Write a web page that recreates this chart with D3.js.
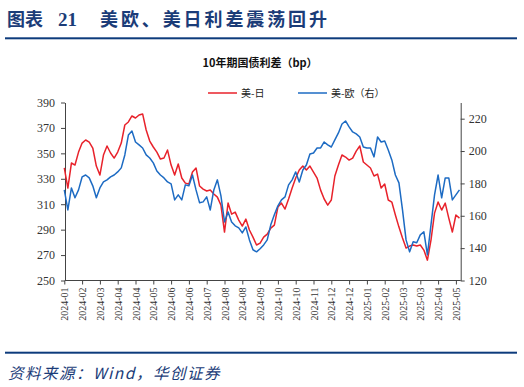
<!DOCTYPE html>
<html>
<head>
<meta charset="utf-8">
<script src="https://cdn.jsdelivr.net/npm/d3@7"></script>
<style>
  body { margin: 0; background: #fff; }
  svg { display: block; }
</style>
</head>
<body>
<svg id="chart" width="524" height="387"></svg>
<script>
// x tick labels, one every 5 samples
const xLabels = ['2024-01', '2024-02', '2024-03', '2024-04', '2024-04', '2024-05', '2024-06', '2024-06',
  '2024-07', '2024-08', '2024-08', '2024-09', '2024-10', '2024-10', '2024-11', '2024-12', '2024-12',
  '2025-01', '2025-02', '2025-03', '2025-03', '2025-04', '2025-05'];

// 美-日 (left axis, bp)
const usJp = [338.5, 322.7, 342.4, 340.8, 351.0, 358.1, 360.5, 358.9, 354.2, 340.0,
  332.9, 348.7, 355.8, 350.3, 346.3, 351.0, 358.1, 372.3, 374.7, 379.4,
  377.8, 380.2, 381.0, 368.4, 359.7, 355.0, 351.0, 345.5, 346.3, 352.6,
  340.8, 332.9, 341.6, 330.6, 326.6, 325.9, 335.3, 338.5, 324.3, 321.9,
  320.4, 321.1, 318.0, 315.6, 309.3, 288.1, 310.9, 302.2, 303.8, 297.5,
  292.8, 298.3, 289.7, 284.1, 277.9, 279.4, 284.1, 286.5, 291.2, 293.6,
  307.8, 310.9, 306.2, 314.1, 322.7, 330.6, 336.9, 340.0, 336.9, 340.0,
  335.3, 330.6, 321.1, 314.1, 309.3, 313.3, 332.2, 340.8, 348.7, 347.1,
  344.7, 346.3, 351.8, 355.8, 343.2, 340.8, 338.5, 332.2, 333.7, 322.7,
  325.9, 313.3, 311.7, 301.5, 292.0, 283.4, 275.5, 277.1, 277.9, 277.1,
  277.9, 273.9, 266.0, 281.8, 303.0, 311.7, 305.4, 310.9, 299.1, 288.1,
  301.5, 299.1];

// 美-欧 (right axis, bp)
const usEu = [176.0, 163.6, 177.2, 171.1, 176.0, 184.0, 185.2, 183.4, 178.5, 171.1,
  177.2, 180.9, 182.2, 184.0, 185.2, 187.1, 189.6, 197.6, 209.9, 212.4,
  205.6, 203.8, 201.9, 197.6, 195.7, 192.7, 187.7, 185.2, 183.4, 180.9,
  179.7, 169.8, 172.9, 169.8, 179.1, 178.5, 185.2, 176.0, 168.0, 168.6,
  171.7, 163.6, 176.0, 182.2, 172.3, 156.2, 162.4, 156.2, 153.8, 152.5,
  149.4, 153.1, 145.1, 139.0, 137.7, 139.6, 142.0, 145.1, 154.4, 160.6,
  166.1, 169.8, 171.7, 179.1, 182.2, 187.1, 180.9, 188.3, 191.4, 198.2,
  198.8, 201.9, 201.9, 205.6, 203.8, 202.5, 206.9, 211.2, 216.7, 218.6,
  214.9, 211.8, 210.6, 208.7, 202.5, 201.9, 201.9, 196.4, 208.7, 205.6,
  206.2, 200.7, 194.5, 185.2, 180.3, 163.6, 145.1, 137.7, 143.9, 143.3,
  148.2, 150.1, 135.9, 154.4, 172.9, 185.2, 171.1, 183.4, 183.4, 169.8,
  172.9, 176.0];

const leftTicks = [250, 270, 290, 310, 330, 350, 370, 390];
const rightTicks = [120, 140, 160, 180, 200, 220];

const navy = '#1b3c78';
const axisColor = '#444';
const numFont = '"Liberation Serif", "DejaVu Serif", serif';
const cjkFont = '"Noto Sans CJK SC", "Noto Sans", sans-serif';

const svg = d3.select('#chart');
const plot = { left: 65, right: 460.7, top: 102.5, bottom: 280.5 };

// header
svg.append('text').attr('x', 7).attr('y', 26)
  .attr('font-family', cjkFont).attr('font-weight', 700).attr('font-size', 18)
  .attr('fill', navy).text('图表');
svg.append('text').attr('x', 58).attr('y', 26)
  .attr('font-family', '"Liberation Serif", serif').attr('font-weight', 700).attr('font-size', 19)
  .attr('fill', navy).text('21');
svg.append('text').attr('x', 100).attr('y', 26)
  .attr('font-family', cjkFont).attr('font-weight', 700).attr('font-size', 18)
  .attr('letter-spacing', 2.9).attr('fill', navy).text('美欧、美日利差震荡回升');
svg.append('rect').attr('x', 5).attr('y', 37.3).attr('width', 512).attr('height', 2).attr('fill', '#0d3b7c');

svg.append('text').attr('x', 260).attr('y', 67).attr('text-anchor', 'middle')
  .attr('font-family', cjkFont).attr('font-weight', 700).attr('font-size', 11)
  .attr('fill', '#111').text('10年期国债利差（bp）');

// scales
const x = d3.scaleLinear().domain([0, usJp.length - 1]).range([64.3, 64.3 + 3.56 * (usJp.length - 1)]);
const yL = d3.scaleLinear().domain([250, 390]).range([plot.bottom, plot.top]);
const yR = d3.scaleLinear().domain([120, 230]).range([plot.bottom, plot.top]);

// legend
const legend = [
  { label: '美-日', color: '#e8222b', x: 208 },
  { label: '美-欧（右）', color: '#1d6bc3', x: 298 },
];
legend.forEach(d => {
  svg.append('line').attr('x1', d.x).attr('x2', d.x + 29).attr('y1', 93).attr('y2', 93)
    .attr('stroke', d.color).attr('stroke-width', 1.5);
  svg.append('text').attr('x', d.x + 33).attr('y', 96.5)
    .attr('font-family', cjkFont).attr('font-size', 10).attr('fill', '#222').text(d.label);
});

// axes
function styleAxis(g) {
  g.selectAll('path').attr('stroke', axisColor);
  g.selectAll('line').attr('stroke', axisColor);
  g.selectAll('text').attr('fill', '#333').attr('font-family', numFont);
}

const gL = svg.append('g').attr('transform', `translate(${plot.left},0)`)
  .call(d3.axisLeft(yL).tickValues(leftTicks).tickSize(4).tickSizeOuter(0).tickPadding(6));
styleAxis(gL);
gL.selectAll('text').attr('font-size', 12);

const gR = svg.append('g').attr('transform', `translate(${plot.right},0)`)
  .call(d3.axisRight(yR).tickValues(rightTicks).tickSize(4).tickSizeOuter(0).tickPadding(4));
styleAxis(gR);
gR.selectAll('text').attr('font-size', 12);

const gX = svg.append('g').attr('transform', `translate(0,${plot.bottom})`)
  .call(d3.axisBottom(x).tickValues(d3.range(0, xLabels.length * 5, 5))
    .tickFormat(i => xLabels[i / 5]).tickSize(4).tickSizeOuter(0));
gX.select('.domain').attr('d', `M${plot.left},0H${plot.right}`);
styleAxis(gX);
gX.selectAll('text')
  .attr('font-size', 10)
  .attr('text-anchor', 'end')
  .attr('dy', '0.35em')
  .attr('transform', 'translate(0,7) rotate(-90)')
  .attr('x', 0).attr('y', 0);

// lines
const lineJp = d3.line().x((d, i) => x(i)).y(d => yL(d));
const lineEu = d3.line().x((d, i) => x(i)).y(d => yR(d));

svg.append('path').attr('d', lineJp(usJp)).attr('fill', 'none')
  .attr('stroke', '#e8222b').attr('stroke-width', 1.5).attr('stroke-linejoin', 'round');
svg.append('path').attr('d', lineEu(usEu)).attr('fill', 'none')
  .attr('stroke', '#1d6bc3').attr('stroke-width', 1.5).attr('stroke-linejoin', 'round');

// footer
svg.append('rect').attr('x', 5).attr('y', 351.7).attr('width', 512).attr('height', 2).attr('fill', '#0d3b7c');
svg.append('text').attr('x', 8).attr('y', 379)
  .attr('font-family', cjkFont).attr('font-style', 'italic').attr('font-size', 15.5)
  .attr('letter-spacing', 1.5).attr('fill', navy).text('资料来源：Wind，华创证券');
</script>
</body>
</html>
